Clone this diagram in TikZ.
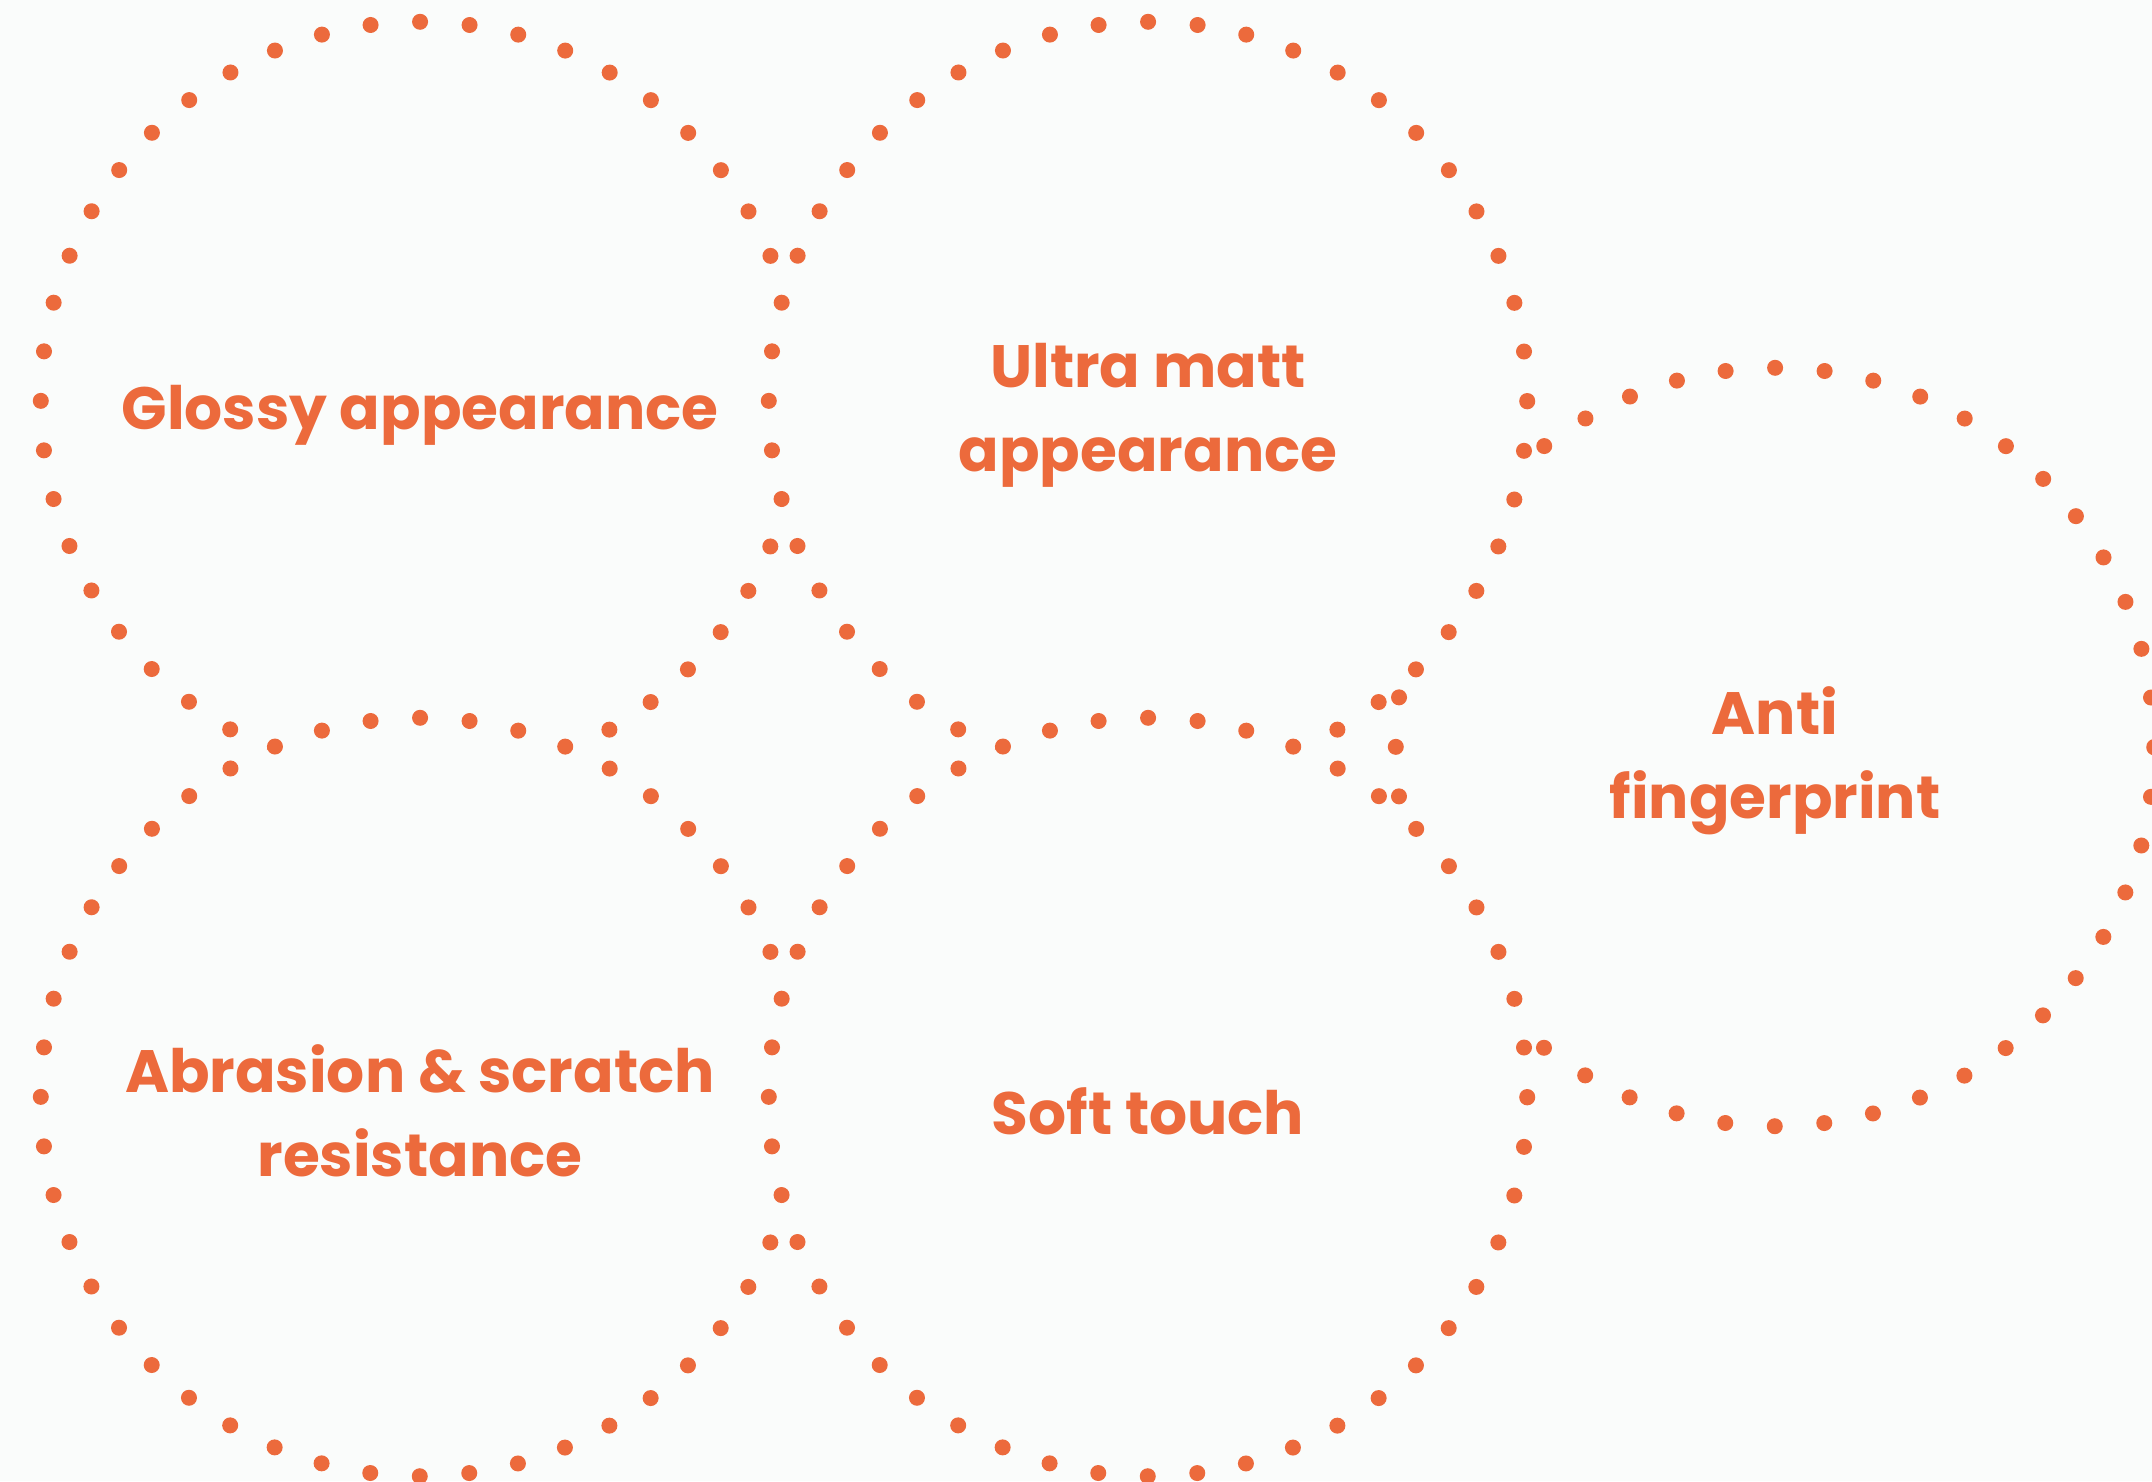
\documentclass[tikz,border=0pt]{standalone}
\usepackage{fontspec}
\setmainfont{Poppins}
\definecolor{venn}{HTML}{EC6A3C}
\definecolor{paper}{HTML}{FAFCFB}

\begin{document}
\begin{tikzpicture}[
			x = 0.01cm, y = -0.01cm,
			ring/.style = {circle, minimum size = 7.58cm, fill = paper, draw = venn, line width = 0.16cm, line cap = round, dash pattern = on 0pt off 0.49611cm},
			tag/.style = {font = \bfseries\fontsize{17}{23.8}\selectfont, text = venn, align = center, yshift = -0.14cm}
			]

			\fill[paper] (0,0) rectangle (2152,1481);
			\useasboundingbox (0,0) rectangle (2152,1481);

			% back to front, each ring hides the dots of the ones under it
			\node[ring] (anti) at (1775,747) {};
			\node[ring] (glossy) at (420,401) {};
			\node[ring] (matt) at (1148,401) {};
			\node[ring] (abrasion) at (420,1097) {};
			\node[ring] (soft) at (1148,1097) {};

			\node[tag] (antitext) at (anti) {Anti\\fingerprint};
			\node[tag] (glossytext) at (glossy) {Glossy appearance};
			\node[tag] (matttext) at (matt) {Ultra matt\\appearance};
			\node[tag] (abrasiontext) at (abrasion) {Abrasion \& scratch\\resistance};
			\node[tag] (softtext) at (soft) {Soft touch};

		\end{tikzpicture}
\end{document}
